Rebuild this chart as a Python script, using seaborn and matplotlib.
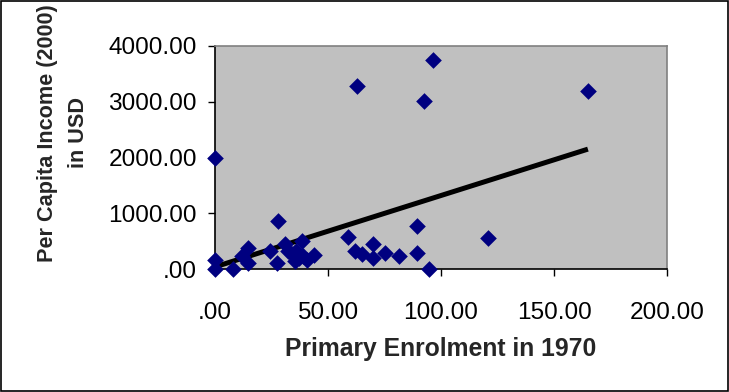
import numpy as np
import pandas as pd
import seaborn as sns
import matplotlib.pyplot as plt
from matplotlib.ticker import FuncFormatter
from matplotlib.patches import Rectangle

# Primary enrolment (1970) and per-capita income (2000, USD) by country
enrolment = [0, 0, 0, 8, 12, 14.7, 14.5, 24.3, 27.7, 27.3, 31, 32.4, 34, 35.4,
             36, 37, 38.4, 39, 40.6, 44, 59, 62, 63, 65, 70, 70, 75.2, 81.4,
             89.5, 89.5, 92.5, 94.8, 96.5, 121, 165]
income = [2000, 160, 0, 0, 230, 380, 110, 324, 865, 114, 445, 324, 264, 144,
          330, 200, 505, 234, 160, 250, 577, 330, 3280, 264, 450, 204, 294, 225,
          780, 294, 3020, 0, 3750, 565, 3185]

x_ticks = [0, 50, 100, 150, 200]
y_ticks = [0, 1000, 2000, 3000, 4000]

df = pd.DataFrame({"enrolment": enrolment, "income": income})

sns.set_style("white")
plt.rcParams["font.family"] = ["Liberation Sans", "DejaVu Sans"]

fig = plt.figure(figsize=(7.29, 3.92), dpi=100)
ax = fig.add_axes([215 / 729, 1 - 269 / 392, (667 - 215) / 729, (269 - 46) / 392])
ax.set_facecolor("#c0c0c0")

sns.scatterplot(data=df, x="enrolment", y="income", marker="D", s=72,
                color="#000080", linewidth=0, ax=ax, zorder=3, clip_on=False)
sns.regplot(data=df, x="enrolment", y="income", scatter=False, ci=None,
            color="black", line_kws={"linewidth": 3.6, "solid_capstyle": "butt"},
            ax=ax)

ax.set_xlim(0, 200)
ax.set_ylim(0, 4000)
ax.set_xticks(x_ticks)
ax.set_yticks(y_ticks)


def two_dec(v, _pos):
    s = f"{v:.2f}"
    return s[1:] if s.startswith("0") else s


ax.xaxis.set_major_formatter(FuncFormatter(two_dec))
ax.yaxis.set_major_formatter(FuncFormatter(two_dec))

ax.tick_params(axis="both", which="major", direction="out", length=5,
               width=1, color="black", labelsize=17.6, labelcolor="black")
ax.tick_params(axis="x", pad=18.5)
ax.tick_params(axis="y", pad=8)
ax.xaxis.set_ticks_position("bottom")
ax.yaxis.set_ticks_position("left")

for side in ("left", "bottom"):
    ax.spines[side].set_color("black")
    ax.spines[side].set_linewidth(1.2)
for side in ("top", "right"):
    ax.spines[side].set_color("#808080")
    ax.spines[side].set_linewidth(1.2)

ax.set_xlabel("Primary Enrolment in 1970", fontsize=17.8, fontweight="bold")
ax.set_ylabel("Per Capita Income (2000)\nin USD", fontsize=15.6,
              fontweight="bold", linespacing=1.6)
ax.xaxis.set_label_coords(0.5, -0.307)
ax.yaxis.set_label_coords(-0.279, 0.61)

# chart-area border
fig.patches.append(Rectangle((0.001, 0.002), 0.997, 0.995, transform=fig.transFigure,
                             fill=False, edgecolor="black", linewidth=1.2))

fig.savefig("out.png", dpi=100, facecolor="white")
